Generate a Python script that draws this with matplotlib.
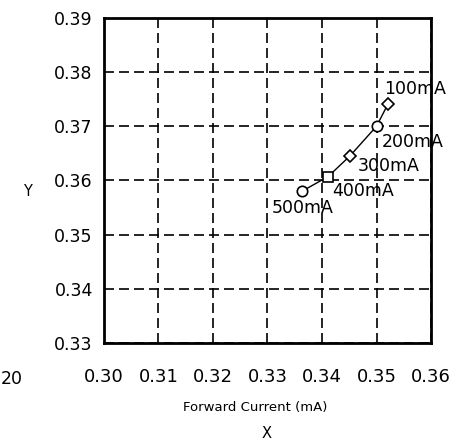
import matplotlib.pyplot as plt

# chromaticity drift with forward current
x_vals = [0.3521, 0.3500, 0.3451, 0.3411, 0.3363]
y_vals = [0.3741, 0.3700, 0.3645, 0.3607, 0.3580]
currents = ["100mA", "200mA", "300mA", "400mA", "500mA"]
markers = ["D", "o", "D", "s", "o"]

x_ticks = [0.30, 0.31, 0.32, 0.33, 0.34, 0.35, 0.36]
y_ticks = [0.33, 0.34, 0.35, 0.36, 0.37, 0.38, 0.39]

fig = plt.figure(figsize=(4.64, 4.45), dpi=100)
ax = fig.add_axes([0.224, 0.229, 0.705, 0.731])

ax.plot(x_vals, y_vals, color="black", lw=1.0, zorder=3)
sizes = {"D": 6.5, "o": 7.5, "s": 7}
for xv, yv, m in zip(x_vals, y_vals, markers):
    ax.plot(xv, yv, marker=m, ms=sizes[m], mfc="white",
            mec="black", mew=1.2, ls="none", zorder=4)

# label offsets in points
offsets = [(-3, 11), (4, -11), (6, -7), (3, -10), (-21.5, -12)]
for xv, yv, txt, (dx, dy) in zip(x_vals, y_vals, currents, offsets):
    ax.annotate(txt, (xv, yv), xytext=(dx, dy), textcoords="offset points",
                fontsize=12.5, va="center", ha="left", zorder=5)

ax.set_xlim(0.30, 0.36)
ax.set_ylim(0.33, 0.39)
ax.set_xticks(x_ticks)
ax.set_yticks(y_ticks)
ax.set_xticklabels([f"{v:.2f}" for v in x_ticks], fontsize=13)
ax.set_yticklabels([f"{v:.2f}" for v in y_ticks], fontsize=12.5)
ax.tick_params(length=0)
ax.tick_params(axis="y", pad=8)
ax.tick_params(axis="x", pad=18)
ax.grid(True, color="black", ls=(0, (6, 3)), lw=1.2)
for s in ax.spines.values():
    s.set_linewidth(2)

fig.text(255 / 464, 1 - 408 / 445, "Forward Current (mA)", fontsize=9.5,
         ha="center", va="center")
fig.text(267 / 464, 1 - 434 / 445, "X", fontsize=10.5, ha="center", va="center")
fig.text(27 / 464, 1 - 191 / 445, "Y", fontsize=10.5, ha="center", va="center")
fig.text(1 / 464, 1 - 379 / 445, "20", fontsize=12.5, ha="left", va="center")

fig.savefig("out.png", dpi=100)
